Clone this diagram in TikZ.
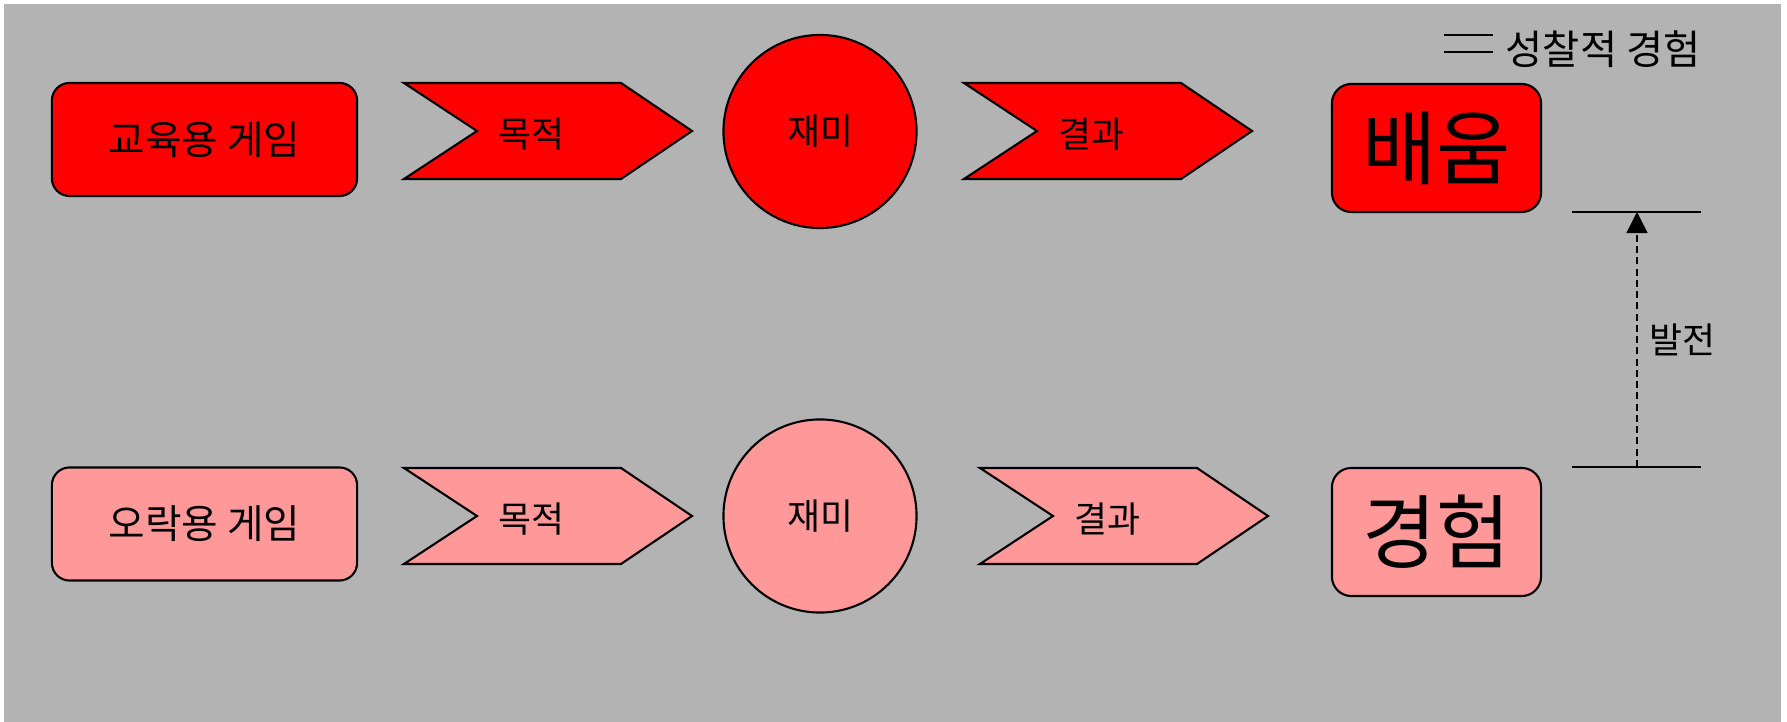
\documentclass[tikz,border=0pt]{standalone}
\usepackage{fontspec}
\setmainfont{Noto Sans CJK KR}
\usetikzlibrary{arrows.meta}

\definecolor{hotred}{RGB}{255,0,0}
\definecolor{softred}{RGB}{255,153,153}
\definecolor{bggray}{RGB}{179,179,179}

\tikzset{
  gamebox/.style={draw, rounded corners=5pt, minimum width=3.05cm, minimum height=1.13cm,
                  font=\fontsize{11.3}{13}\selectfont},
  bigbox/.style={draw, rounded corners=5.5pt, minimum width=2.09cm, minimum height=1.28cm,
                 font=\fontsize{23}{27}\selectfont},
  fun/.style={draw, circle, minimum size=1.93cm, font=\fontsize{10.2}{12}\selectfont},
  lbl/.style={font=\fontsize{10.2}{12}\selectfont}
}

\begin{document}
\begin{tikzpicture}[x=0.01cm, y=-0.01cm, line width=0.6pt]
  \useasboundingbox[fill=white] (0,0) rectangle (1787,722);
  \fill[bggray] (4,4) rectangle (1781,722);

  % starting points
  \node[gamebox, fill=hotred] (edu) at (204.5,139.5) {교육용 게임};
  \node[gamebox, fill=softred] (play) at (204.5,524) {오락용 게임};

  % chevrons: purpose and result
  \foreach \cx/\cy/\col in {548/131/hotred, 1108/131/hotred, 548/516/softred, 1124/516/softred}
    \draw[fill=\col, shift={(\cx,\cy)}] (-144,-48) -- (73,-48) -- (144,0) -- (73,48) -- (-144,48) -- (-71,0) -- cycle;
  \node[lbl] (goalA) at (531,134) {목적};
  \node[lbl] (resA) at (1091,134) {결과};
  \node[lbl] (goalB) at (531,519) {목적};
  \node[lbl] (resB) at (1107,519) {결과};

  % fun in the middle
  \node[fun, fill=hotred] (funA) at (820,131.5) {재미};
  \node[fun, fill=softred] (funB) at (820,516) {재미};

  % outcomes
  \node[bigbox, fill=hotred] (learn) at (1436.5,148) {배움};
  \node[bigbox, fill=softred] (exper) at (1436.5,532) {경험};

  % levels of reflective experience
  \coordinate (hiL) at (1572,212);
  \coordinate (hiR) at (1701,212);
  \coordinate (loL) at (1572,467);
  \coordinate (loR) at (1701,467);
  \draw[line width=0.5pt] (hiL) -- (hiR);
  \draw[line width=0.5pt] (loL) -- (loR);
  \coordinate (hi) at (1637,212);
  \coordinate (lo) at (1637,467);
  \draw[line width=0.4pt, dash pattern=on 2pt off 1.2pt, -{Triangle[length=6pt,width=6pt]}]
    (lo) -- (hi) node[midway, right, lbl] (grow) {발전};

  % legend
  \coordinate (keyA) at (1444,35);
  \coordinate (keyB) at (1444,52);
  \draw[line width=0.5pt] (keyA) -- ++(49,0);
  \draw[line width=0.5pt] (keyB) -- ++(49,0);
  \node[right, font=\fontsize{11.5}{13}\selectfont] (key) at (1493,49) {성찰적 경험};
\end{tikzpicture}
\end{document}
